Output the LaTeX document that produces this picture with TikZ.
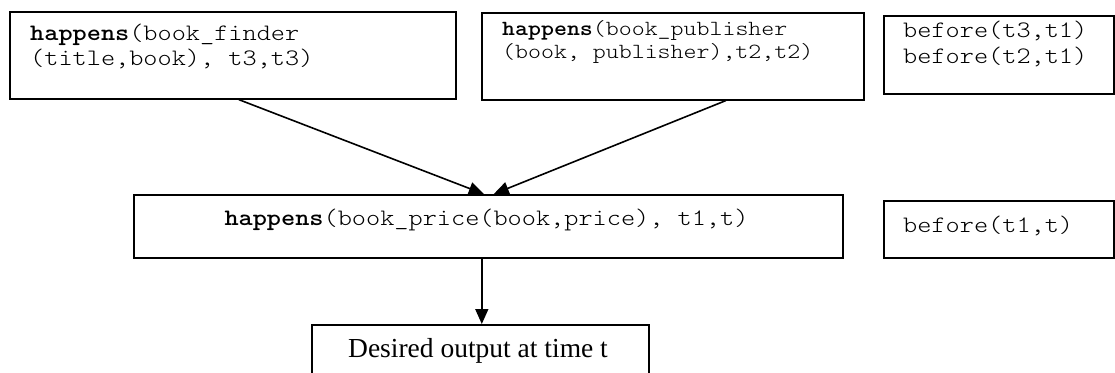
\documentclass[tikz,border=0pt]{standalone}
\usepackage{fontspec}
\setmainfont{Liberation Serif}
% light typewriter face widened to a 0.6em advance
\newfontfamily\typewriter{lmmonolt10-regular.otf}[FakeStretch=1.143, BoldFont=lmmonolt10-bold.otf, BoldFeatures={FakeStretch=1.143}]
\usetikzlibrary{arrows.meta}

% sizes: 12pt, 11pt and 14pt type rendered at about 1.97 units per point
\newcommand{\twelve}{\fontsize{23.6}{26.8}\selectfont}
\newcommand{\eleven}{\fontsize{21.6}{24.5}\selectfont}
\newcommand{\fourteen}{\fontsize{27.5}{31}\selectfont}

\tikzset{
  box/.style={draw, line width=1.6pt, inner sep=0pt, anchor=north west},
  code/.style={inner sep=0pt, anchor=base west, font=\typewriter\twelve},
  smallcode/.style={inner sep=0pt, anchor=base west, font=\typewriter\eleven},
  plain/.style={inner sep=0pt, anchor=base, font=\rmfamily\fourteen},
  flow/.style={line width=1.6pt, -{Triangle[length=15pt,width=13pt]}},
}

\begin{document}
\begin{tikzpicture}[x=1pt, y=-1pt]
  \useasboundingbox (0,0) rectangle (1115,372);

  % boxes
  \node[box, minimum width=446pt, minimum height=87pt] (finder) at (9,11) {};
  \node[box, minimum width=382pt, minimum height=87pt] (publisher) at (481,12) {};
  \node[box, minimum width=230pt, minimum height=78pt] (order1) at (883,15) {};
  \node[box, minimum width=709pt, minimum height=63pt] (price) at (133,194) {};
  \node[box, minimum width=230pt, minimum height=57pt] (order2) at (883,200) {};
  \node[box, minimum width=337pt, minimum height=60pt] (output) at (311,324) {};

  % texts
  \node[code] (finderA) at (30,40) {\textbf{happens}(book\_finder};
  \node[code] (finderB) at (30,65) {(title,book), t3,t3)};
  \node[smallcode] (publisherA) at (502,35) {\textbf{happens}(book\_publisher};
  \node[smallcode] (publisherB) at (502,58) {(book, publisher),t2,t2)};
  \node[code] (order1A) at (903,37) {before(t3,t1)};
  \node[code] (order1B) at (903,63) {before(t2,t1)};
  \node[code, anchor=base] (priceT) at (486.5,225) {\textbf{happens}(book\_price(book,price), t1,t)};
  \node[code] (order2A) at (903,232) {before(t1,t)};
  \node[plain] (outputT) at (478,357) {Desired output at time t};

  % connectors
  \draw[flow] ([xshift=6pt]finder.south) -- ([xshift=-4.5pt]price.north);
  \draw[flow] ([xshift=53pt]publisher.south) -- ([xshift=5.5pt]price.north);
  \draw[flow] ([xshift=1.5pt]output.north |- price.south) -- ([xshift=1.5pt]output.north);
\end{tikzpicture}
\end{document}
